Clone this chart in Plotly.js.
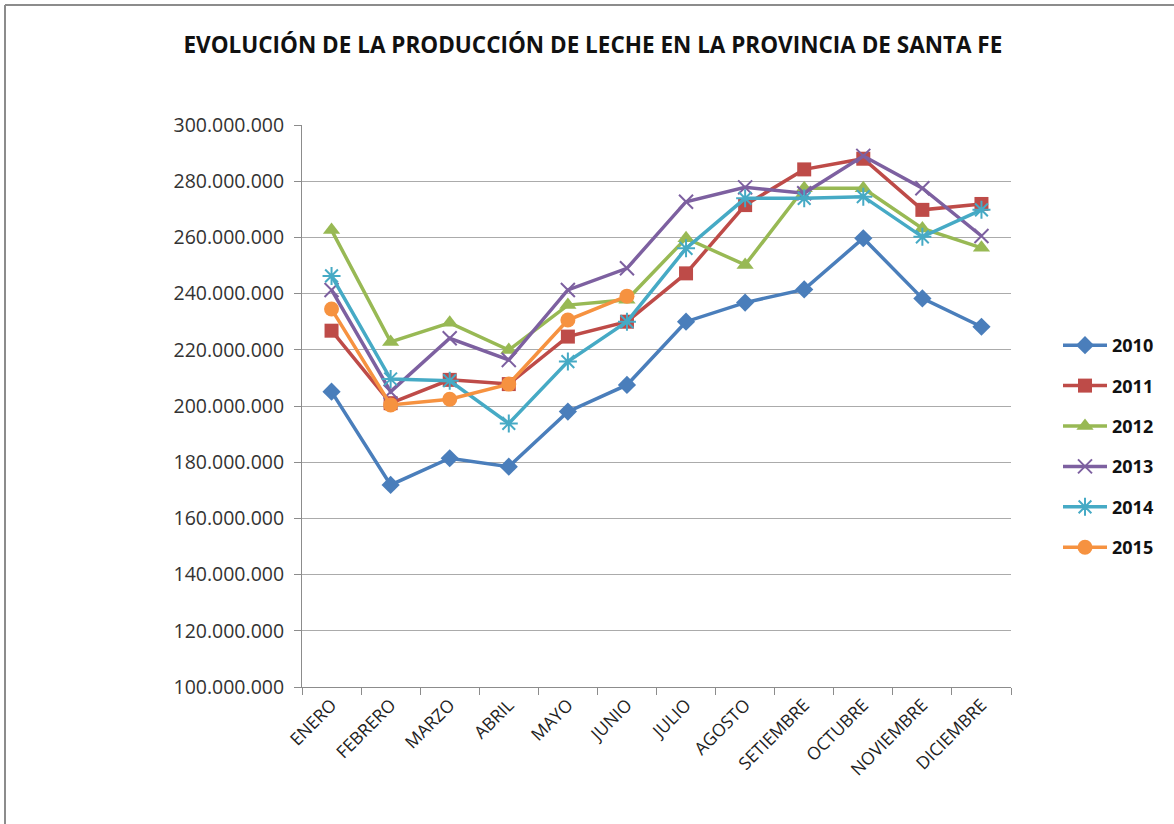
<!DOCTYPE html>
<html>
<head>
<meta charset="utf-8">
<script src="https://cdn.plot.ly/plotly-3.0.1.min.js"></script>
<style>
html,body{margin:0;padding:0;background:#fff;}
#chart{width:1174px;height:824px;}
</style>
</head>
<body>
<div id="chart"></div>
<script>
const months = ["ENERO","FEBRERO","MARZO","ABRIL","MAYO","JUNIO","JULIO","AGOSTO","SETIEMBRE","OCTUBRE","NOVIEMBRE","DICIEMBRE"];
const y2010 = [205100000,171900000,181400000,178400000,198000000,207500000,230000000,236800000,241500000,259700000,238300000,228200000];
const y2011 = [226800000,201000000,209300000,207800000,224700000,230000000,247200000,271500000,284200000,288000000,269800000,271900000];
const y2012 = [262600000,222800000,229600000,219900000,235900000,237800000,259700000,250200000,277500000,277500000,263200000,256300000];
const y2013 = [241300000,205100000,224100000,216400000,241300000,249000000,272700000,277800000,275700000,289000000,277500000,260500000];
const y2014 = [246300000,209600000,209000000,193800000,215800000,230000000,256100000,273900000,273900000,274500000,260200000,269800000];
const y2015 = [234500000,200400000,202400000,207800000,230600000,239100000,null,null,null,null,null,null];

const years = ["2010","2011","2012","2013","2014","2015"];
const colors = ["#4A7EBB","#BE4B48","#98B954","#7D60A0","#46AAC5","#F69240"];
const symbols = ["diamond","square","triangle-up","x-thin-open","asterisk-open","circle"];
const sizes = [14,14,15,14,15,15];
const series = [y2010,y2011,y2012,y2013,y2014,y2015];

const traces = series.map((vals,i)=>({
  type:"scatter",
  mode:"lines+markers",
  name:years[i],
  legendgroup:years[i],
  x:months,
  y:vals,
  line:{color:colors[i],width:3.5},
  marker:{symbol:symbols[i],size:sizes[i],color:colors[i],line:{color:colors[i],width:(i===3||i===4)?2:0}},
  connectgaps:false
}));

// frame coordinates (paper units relative to plot area)
const L=302,R=1011,T=125,B=687;
const px = v => (v-L)/(R-L);
const py = v => (B-v)/(B-T);

const layout = {
  width:1174,height:824,
  margin:{l:L,r:1174-R,t:T,b:824-B},
  paper_bgcolor:"#fff",plot_bgcolor:"#fff",
  separators:",.",
  font:{family:"Open Sans, Liberation Sans, sans-serif",color:"#333"},
  title:{text:"EVOLUCIÓN DE LA PRODUCCIÓN DE LECHE EN LA PROVINCIA DE SANTA FE",
    font:{size:22.5,color:"#111",weight:"bold"},
    xref:"container",yref:"container",x:0.505,xanchor:"center",y:1-45/824,yanchor:"middle"},
  xaxis:{type:"category",range:[-0.5,11.5],tickangle:-45,
    tickfont:{size:17.5,color:"#222"},
    showgrid:false,showline:true,linecolor:"#8c8c8c",linewidth:1,
    ticks:"outside",tickson:"boundaries",ticklen:7,tickcolor:"#8c8c8c",zeroline:false},
  yaxis:{range:[100000000,300000000],dtick:20000000,tickformat:",.0f",
    tickfont:{size:19.5,color:"#333"},ticklabelstandoff:6,
    showgrid:true,gridcolor:"#ababab",gridwidth:1,
    showline:true,linecolor:"#8c8c8c",linewidth:1,
    ticks:"outside",ticklen:7,tickcolor:"#8c8c8c",zeroline:false},
  showlegend:true,
  legend:{x:px(1058),xanchor:"left",y:py(327),yanchor:"top",
    font:{size:18,color:"#111",weight:"bold"},
    traceorder:"grouped",tracegroupgap:14,itemwidth:44,
    bgcolor:"rgba(0,0,0,0)"},
  shapes:[
    {type:"line",xref:"paper",yref:"paper",x0:px(5),x1:px(5),y0:py(5),y1:py(824),line:{color:"#8c8c8c",width:2}},
    {type:"line",xref:"paper",yref:"paper",x0:px(5),x1:px(1174),y0:py(5),y1:py(5),line:{color:"#8c8c8c",width:2}}
  ]
};

Plotly.newPlot("chart",traces,layout,{displayModeBar:false,staticPlot:true});
</script>
</body>
</html>
